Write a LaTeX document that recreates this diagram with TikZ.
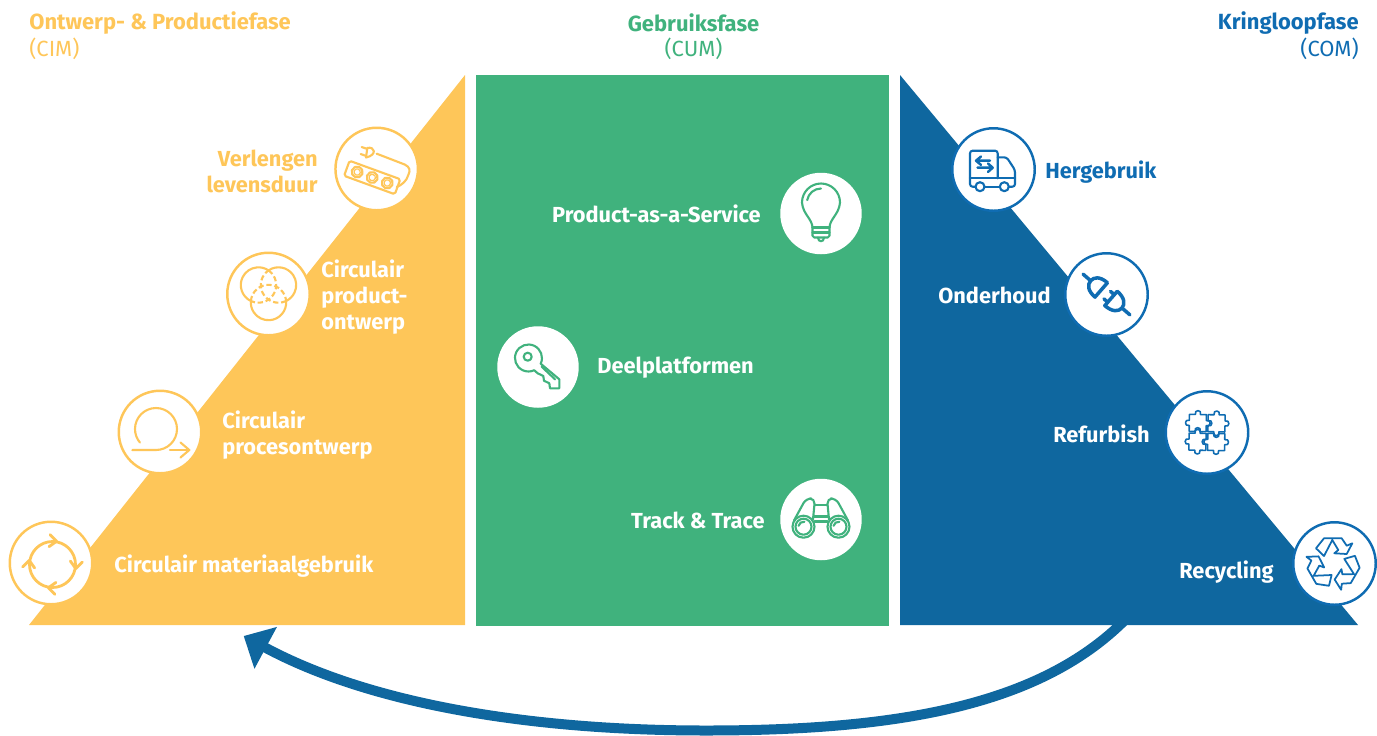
\documentclass[tikz,border=0pt]{standalone}
\usepackage{fontspec}
\setmainfont{Fira Sans}
\usetikzlibrary{arrows.meta}
\definecolor{cimgeel}{HTML}{FEC659}
\definecolor{cumgroen}{HTML}{40B27D}
\definecolor{comblauw}{HTML}{0F679F}
\definecolor{comtekst}{HTML}{0F6CB2}
\tikzset{
  iconring/.style={circle,fill=white,minimum size=1.63cm,inner sep=0pt},
  randring/.style={iconring,minimum size=1.65cm,line width=1.4pt},
  fasekop/.style={font=\fontsize{12.5}{15}\selectfont\bfseries,inner sep=0pt},
  fasesub/.style={font=\fontsize{12.5}{15}\selectfont,inner sep=0pt},
  label/.style={font=\fontsize{12.4}{14.8}\selectfont\bfseries,inner sep=0pt,white},
  lijn/.style={line width=1.2pt,line join=round,line cap=round}
}
\begin{document}
\begin{tikzpicture}[x=0.02cm,y=-0.02cm]
\useasboundingbox (0,0) rectangle (1377,735);
\coordinate (pijlstart) at (1125,620);
\coordinate (pijllaag) at (706,730.5);
\coordinate (pijlkop) at (243.7,636);
% de drie fasen
\fill[cimgeel] (29,625) -- (465,75) -- (465,625) -- cycle;
\fill[cumgroen] (476,75) rectangle (889,626);
\fill[comblauw] (900,75) -- (1358,625) -- (900,625) -- cycle;
\draw[comblauw,line width=0.2cm,-{Triangle[length=0.5cm,width=0.92cm]}] (pijlstart) .. controls (1040,705) and (900,730.5) .. (pijllaag) .. controls (530,730.5) and (370,704) .. (pijlkop);
% koppen
\node[fasekop,cimgeel,anchor=west] (cimkop) at (29,23) {Ontwerp- \& Productiefase};
\node[fasesub,cimgeel,anchor=west] (cimsub) at (29,49) {(CIM)};
\node[fasekop,cumgroen] (cumkop) at (693.5,23) {Gebruiksfase};
\node[fasesub,cumgroen] (cumsub) at (693.5,49) {(CUM)};
\node[fasekop,comtekst,anchor=east] (comkop) at (1359,23) {Kringloopfase};
\node[fasesub,comtekst,anchor=east] (comsub) at (1359,49) {(COM)};
% cirkels
\node[randring,draw=cimgeel] (verlengen) at (376.7,169) {};
\node[randring,draw=cimgeel] (productontwerp) at (268.5,294) {};
\node[randring,draw=cimgeel] (procesontwerp) at (160,432) {};
\node[randring,draw=cimgeel] (materiaal) at (51,563) {};
\node[iconring] (service) at (821,213.5) {};
\node[iconring] (delen) at (538,367) {};
\node[iconring] (track) at (821,519.5) {};
\node[randring,draw=comtekst] (hergebruik) at (993.5,169.5) {};
\node[randring,draw=comtekst] (onderhoud) at (1106.5,294.5) {};
\node[randring,draw=comtekst] (refurbish) at (1207,432.5) {};
\node[randring,draw=comtekst] (recycling) at (1334.5,563.5) {};
% teksten
\node[label,cimgeel,anchor=east,align=right] (verlengentxt) at (318,171.5) {Verlengen\\levensduur};
\node[label,anchor=west,align=left] (producttxt) at (321,297) {Circulair\\product-\\ontwerp};
\node[label,anchor=west,align=left] (procestxt) at (222,435) {Circulair\\procesontwerp};
\node[label,anchor=west] (materiaaltxt) at (114,566) {Circulair materiaalgebruik};
\node[label,anchor=east] (servicetxt) at (761,214) {Product-as-a-Service};
\node[label,anchor=west] (delentxt) at (597,368) {Deelplatformen};
\node[label,anchor=east] (tracktxt) at (765,520) {Track \& Trace};
\node[label,comtekst,anchor=west] (hergebruiktxt) at (1045,172) {Hergebruik};
\node[label,anchor=east] (onderhoudtxt) at (1051,295.5) {Onderhoud};
\node[label,anchor=east] (refurbishtxt) at (1150,434) {Refurbish};
\node[label,anchor=east] (recyclingtxt) at (1274,572) {Recycling};
% stekkerdoos
\begin{scope}[shift={(verlengen.center)},lijn,draw=cimgeel]
\begin{scope}[shift={(-4.5,8.5)},rotate=-20]
\draw[rounded corners=1pt] (-27,-8) rectangle (27,8);
\foreach \x in {-16,0,16}{
\draw (\x,0) circle (5.5);
\draw[line width=0.7pt] (\x,0) circle (3.2);
}
\end{scope}
\draw (20,18) .. controls (25,16) and (30,12) .. (31.6,6) .. controls (34,1) and (33,-2) .. (28,-4.5) -- (0,-15.3);
\draw (-9.4,-21) .. controls (-2,-23) and (1,-14) .. (-10.7,-11.5) -- cycle;
\draw (-9.4,-20) -- (-15,-22) (-10.5,-13) -- (-16,-15);
\end{scope}
% venn
\begin{scope}[shift={(productontwerp.center)},lijn,draw=cimgeel]
\foreach \cx/\cy/\a/\b in {-10/-9/115.6/304.4,10/-9/235.6/424.4,0/8.5/-4.4/184.4}{
\draw (\cx,\cy) ++(\a:17.7) arc (\a:\b:17.7);
\draw[dash pattern=on 3pt off 1.6pt,line cap=butt] (\cx,\cy) ++(\b:17.7) arc (\b:\a+360:17.7);
}
\end{scope}
% lus
\begin{scope}[shift={(procesontwerp.center)},lijn,draw=cimgeel]
\draw (-27.7,18) -- (-4,18) arc (90:-220:21);
\draw (10,18) -- (29.3,18);
\draw (20.5,10.5) -- (29.3,18) -- (20.5,25.5);
\end{scope}
% kringloop
\begin{scope}[shift={(materiaal.center)},lijn,draw=cimgeel]
\draw[line width=1.6pt] (1.5,1.5) circle (23);
\foreach \a in {-85,5,95,185}{
\begin{scope}[shift={(1.5,1.5)},rotate=-\a]
\draw[line width=1.6pt] (17.5,-5) -- (23.5,2) -- (29.5,-5);
\end{scope}
}
\end{scope}
% lamp
\begin{scope}[shift={(service.center)},lijn,draw=cumgroen]
\draw (-8.5,14) .. controls (-9,5) and (-18,1) .. (-19,-11) arc (180:360:19) .. controls (18,1) and (9,5) .. (8.5,14);
\draw[rounded corners=1pt] (-8.5,14) -- (-8.5,24) -- (8.5,24) -- (8.5,14);
\draw (-8.5,14) -- (8.5,14) (-8.5,19) -- (8.5,19);
\draw (-3,24) .. controls (-3,29) and (3,29) .. (3,24);
\draw (0,-11) ++(190:14) arc (190:270:14);
\end{scope}
% sleutel
\begin{scope}[shift={(delen.center)},lijn,draw=cumgroen]
\draw (2.7,-3.3) arc (25:-295:13.5) -- (-0.3,6.3) -- (5.3,9) -- (6,13.7) -- (11.3,16.3) -- (12,21.3) -- (21.3,21.3) -- (21.3,12.3) -- cycle;
\draw (-10.3,-10.3) circle (4);
\draw (3.7,-0.3) -- (17,12.3);
\end{scope}
% verrekijker
\begin{scope}[shift={(track.center)},lijn,draw=cumgroen]
\foreach \s in {-1,1}{
\draw (\s*17.5,7.2) circle (11);
\draw (\s*17.5,7.2) circle (8);
\draw[rounded corners=3pt] (\s*27,1) -- (\s*15,-21) -- (\s*6,-21) -- (\s*8,0);
\draw (\s*17.5,7.2) ++(190:5) arc (190:280:5);
}
\draw (-6,-14.5) -- (6,-14.5) (-7.5,-3) -- (7.5,-3) (-6.5,2) -- (6.5,2);
\end{scope}
% vrachtwagen
\begin{scope}[shift={(hergebruik.center)},lijn,draw=comtekst]
\draw[rounded corners=1.5pt] (-18,17.2) -- (-23.5,17.2) -- (-23.5,-18.8) -- (4.2,-18.8) -- (4.2,8.8);
\draw (-23.5,8.8) -- (21.5,8.8);
\draw[rounded corners=1.5pt] (4.2,-12.2) -- (13.2,-12.2) -- (21.5,0.5) -- (21.5,17.2) -- (15.3,17.2);
\draw (-9,17.2) -- (6.3,17.2);
\draw (-13.5,17.2) circle (4.5);
\draw (10.8,17.2) circle (4.5);
\draw[line width=1.4pt] (-12.5,-13) -- (-17.5,-8.8) -- (-12.5,-4.6) (-17.5,-8.8) -- (-3.5,-8.8);
\draw[line width=1.4pt] (-5.5,-6) -- (-0.8,-1.8) -- (-5.5,2.4) (-0.8,-1.8) -- (-16,-1.8);
\end{scope}
% stekker
\begin{scope}[shift={(onderhoud.center)},rotate=-41,lijn,draw=comtekst,line width=2pt]
\draw (-31,0) -- (-21,0);
\draw (-7,-9.5) -- (-7,9.5) .. controls (-17,9.5) and (-21,5) .. (-21,0) .. controls (-21,-5) and (-17,-9.5) .. (-7,-9.5);
\draw (6,-9.5) -- (6,9.5) .. controls (16,9.5) and (20.5,5) .. (20.5,0) .. controls (20.5,-5) and (16,-9.5) .. (6,-9.5);
\draw (20.5,0) -- (31,0);
\draw (6,-5) -- (1,-5) (6,5) -- (1,5);
\end{scope}
% puzzel
\begin{scope}[shift={(refurbish.center)},lijn,draw=comtekst,line width=0.9pt]
\foreach \r in {0,90,180,270}{
\begin{scope}[rotate=\r-1,scale=0.85]
\draw (1,-21) -- (8,-21) .. controls (6,-27) and (16,-27) .. (14,-21) -- (21,-21) -- (21,-14) .. controls (27,-16) and (27,-6) .. (21,-8) -- (21,-1) -- (14,-1) .. controls (16,5) and (6,5) .. (8,-1) -- (1,-1) -- (1,-8) .. controls (7,-6) and (7,-16) .. (1,-14) -- cycle;
\end{scope}
}
\end{scope}
% recycle
\begin{scope}[shift={(recycling.center)},lijn,draw=comtekst,line width=1pt]
\foreach \r in {0,120,240}{
\begin{scope}[shift={(-1.2,-0.2)},rotate=\r]
\draw (-17.3,-15) -- (-9.3,-25) -- (8.4,-25) -- (13.4,-17.6) -- (19,-20) -- (13.4,-9.3) -- (1,-10) -- (5,-13.3) -- (-1,-23.3) -- (-9.3,-7.3) -- cycle;
\end{scope}
}
\end{scope}
\end{tikzpicture}
\end{document}
